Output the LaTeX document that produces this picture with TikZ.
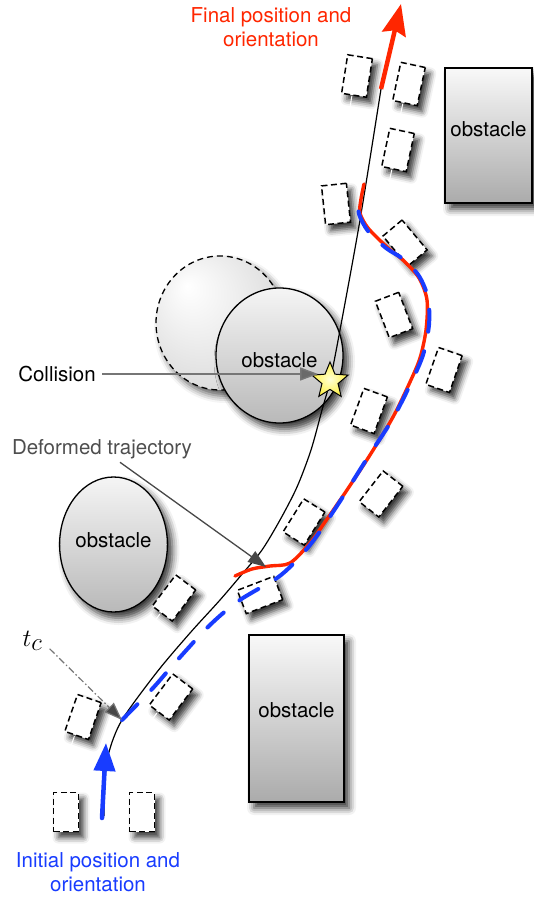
\documentclass[tikz,border=0pt]{standalone}
\usepackage{fontspec}
\setmainfont{TeX Gyre Heros}
\usetikzlibrary{arrows.meta, shapes.geometric, shadows.blur, calc}

\definecolor{trajred}{RGB}{255,38,0}
\definecolor{trajblue}{RGB}{24,60,255}
\definecolor{labelgray}{RGB}{78,78,78}
\definecolor{pointergray}{RGB}{118,118,118}
\definecolor{headgray}{RGB}{72,72,72}

% soft highlight for the previous position of the moving obstacle
\pgfdeclareradialshading{ghostshade}{\pgfpoint{-13bp}{14bp}}{%
  color(0bp)=(white); color(14bp)=(gray!12); color(32bp)=(gray!28); color(50bp)=(gray!32)}

\begin{document}
\begin{tikzpicture}[x=1pt, y=-1pt,
  every node/.style={font=\fontsize{20.5}{24.5}\selectfont},
  obstacle/.style={draw=black, line width=1.3pt, inner sep=0pt,
    blur shadow={shadow xshift=5pt, shadow yshift=-6pt,
      shadow blur radius=7pt, shadow opacity=80}},
  boxobst/.style={obstacle, rectangle, top color=gray!5, bottom color=gray!66},
  roundobst/.style={obstacle, ellipse, top color=gray!8, bottom color=gray!55},
  ghostobst/.style={ellipse, draw=black, line width=1.3pt, dash pattern=on 6pt off 4pt,
    shading=ghostshade, inner sep=0pt,
    blur shadow={shadow xshift=5pt, shadow yshift=-6pt,
      shadow blur radius=7pt, shadow opacity=65}},
  car/.style={rectangle, draw=black, line width=1.5pt, dash pattern=on 6pt off 3.5pt,
    fill=white, minimum width=25pt, minimum height=39pt, inner sep=0pt,
    blur shadow={shadow xshift=5pt, shadow yshift=-6pt,
      shadow blur radius=6pt, shadow opacity=80}},
  tail/.style={white, line width=1pt},
  path black/.style={black, line width=1.2pt},
  path red/.style={trajred, line width=3.4pt, line cap=round},
  path blue/.style={trajblue, line width=4pt, line cap=round, dash pattern=on 22pt off 20pt},
  pointer/.style={pointergray, line width=1.4pt,
    -{Triangle[length=18pt, width=13pt, fill=pointergray!90!black]}},
  darkpointer/.style={headgray, line width=1.3pt,
    -{Triangle[length=18pt, width=13pt, fill=headgray]}},
  dotpointer/.style={pointergray, line width=1.2pt,
    dash pattern=on 7pt off 2.5pt on 1.5pt off 2.5pt,
    -{Triangle[length=18pt, width=13pt, fill=headgray, sep=0pt]}},
]
\useasboundingbox (0,0) rectangle (534,899);

% ---------- obstacles ----------
\node[ghostobst, minimum width=128pt, minimum height=134pt] (ghost) at (220,323) {};
\node[boxobst, minimum width=87pt, minimum height=135pt, text depth=12pt] (obsA) at (488.5,135.5) {obstacle};
\node[roundobst, minimum width=127pt, minimum height=135pt, text height=24pt, text depth=0pt] (obsB) at (279.5,355.5) {obstacle};
\node[roundobst, minimum width=101pt, minimum height=135pt, text depth=8pt] (obsC) at (113.5,544.5) {obstacle};
\node[boxobst, minimum width=95pt, minimum height=167pt, text depth=16pt] (obsD) at (296.5,718.5) {obstacle};

% ---------- vehicle poses along the path ----------
\node[car] (ca) at (66,812) {};
\node[car] (cb) at (142,812) {};
\node[car, rotate=-19] (cc) at (83,717) {};
\node[car, rotate=-37] (cd) at (171,697) {};
\node[car, rotate=-37] (ce) at (174,598) {};
\node[car, rotate=-69] (cf) at (260,595) {};
\node[car, rotate=-32] (cg) at (304,522) {};
\node[car, rotate=-38] (ch) at (381,494) {};
\node[car, rotate=-20] (ci) at (369,411) {};
\node[car, rotate=-19] (cj) at (444,370) {};
\node[car, rotate=21] (ck) at (394,315) {};
\node[car, rotate=40] (cl) at (405,243) {};
\node[car, rotate=6] (cm) at (336,204) {};
\node[car, rotate=-12] (cn) at (398,150) {};
\node[car, rotate=-9] (co) at (357,76) {};
\node[car, rotate=-12] (cp) at (409,84) {};

\foreach \c in {cc,cd,ce,cn,co,cp}
  \draw[tail] ([xshift=-2pt]\c.south) -- ($([xshift=-2pt]\c.south)!-13pt!([xshift=-2pt]\c.north)$);

% ---------- trajectories ----------
\coordinate (initbase) at (102,818);
\coordinate (inittip) at (106,743);
\coordinate (finbase) at (381,89);
\coordinate (fintip) at (401,4);
\coordinate (tcpt) at (122,720);
\coordinate (defstart) at (235,576);
\coordinate (deftip) at (266,567);
\coordinate (collpt) at (330,381);

% original trajectory
\draw[path black] plot[smooth, tension=0.5] coordinates {
  (104,816) (105,780) (109,752) (tcpt) (157,672) (190,633) (220,600)
  (243,573) (262,550) (280,520) (297,487) (311,450) (322,410) (collpt)
  (340,330) (360,220) (finbase)};

% deformed trajectory
\draw[path red] plot[smooth, tension=0.5] coordinates {
  (defstart) (252,569) (270,566) (290,563) (310,543) (325,522) (347,490)
  (370,455) (393,417) (410,382) (420,358) (426,330) (427,300) (419,278)
  (404,261) (387,247) (368,228) (360,213) (361,199) (364,184)};

% trajectory computed from t_c
\draw[path blue] plot[smooth, tension=0.5] coordinates {
  (tcpt) (153,688) (173,665) (203,632) (222,614) (240,600) (253,592)
  (277,578) (292,565) (310,545) (325,524) (346,492) (368,457) (392,420)
  (410,385) (423,355) (429,325) (428,298) (419,276) (403,259) (386,248)
  (368,231) (359,214) (358,199)};

% initial and final orientation
\draw[trajblue, line width=4.5pt, line cap=round,
  -{Triangle[length=28pt, width=21pt]}] (initbase) -- (inittip);
\draw[trajred, line width=4.5pt,
  -{Stealth[length=31pt, width=24pt, inset=4pt]}] (finbase) -- (fintip);

% collision point
\node[star, star points=5, star point ratio=2.25, minimum size=38pt, inner sep=0pt,
  draw=black, line width=1pt,
  inner color={rgb,255:red,255;green,255;blue,215},
  outer color={rgb,255:red,255;green,242;blue,70}] (star) at (collpt) {};

% ---------- labels ----------
\node[text=trajred, align=center] (fin) at (271,27) {Final position and\\orientation};
\node[text=trajblue, align=center] (ini) at (98,872) {Initial position and\\orientation};
\node (coll) at (57,374) {Collision};
\node[text=labelgray] (deflab) at (102,449) {Deformed trajectory};
\node[font=\fontsize{36}{40}\selectfont, inner sep=1pt] (tc) at (32.5,641) {$t_c$};

\draw[pointer] ([xshift=3pt]coll.east) -- (coll.east -| star.west);
\draw[darkpointer] ([xshift=18pt]deflab.south) -- (deftip);
\draw[dotpointer] ([xshift=6pt,yshift=3pt]tc.south east) -- (tcpt);
\end{tikzpicture}
\end{document}
